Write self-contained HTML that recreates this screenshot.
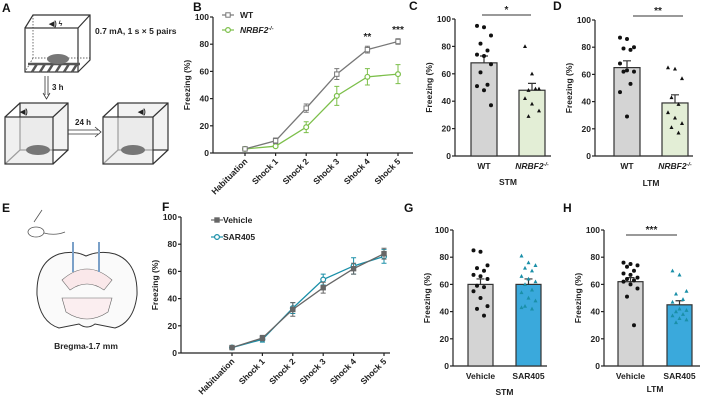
<!DOCTYPE html>
<html><head><meta charset="utf-8"><style>
body{margin:0;background:#fff}
svg{display:block;font-family:"Liberation Sans",Arial,sans-serif;font-weight:bold}
</style></head><body>
<svg id="fig" width="708" height="401" viewBox="0 0 708 401" xmlns="http://www.w3.org/2000/svg">
<g stroke="#333" stroke-width="1.2" fill="none">
<text x="2" y="12" font-size="12" fill="#111" stroke="none">A</text>
<path d="M25 28 L33 15 L90 15 L90 60 L78 72 M78 28 L90 15" />
<rect x="25" y="28" width="53" height="44" fill="#fff"/>
<path d="M33 15 L33 58 L90 58 M33 58 L25 72" stroke-dasharray="1.5 1.5" stroke-width="0.7"/>
<path d="M28 64 L80 64 M32 72 l5 -8 M40 72 l5 -8 M48 72 l5 -8 M56 72 l5 -8 M64 72 l5 -8 M72 72 l5 -8" stroke-width="2.5" stroke="#555"/>
<ellipse cx="58" cy="59" rx="11" ry="5" fill="#777" stroke="none"/>
<text x="95" y="34" font-size="8.5" fill="#222" stroke="none">0.7 mA, 1 s × 5 pairs</text>
<text x="49" y="26" font-size="7" fill="#222" stroke="none">◀) ϟ</text>
<path d="M45 76 L45 95 M48 76 L48 95 M43 93 L46.5 99 L50 93" stroke-width="0.8"/>
<text x="52" y="90" font-size="8" fill="#222" stroke="none">3 h</text>
<rect x="20" y="103" width="48" height="47" fill="#f2f2f2"/>
<path d="M5 117 L20 103 M53 117 L68 103 M53 164 L68 150 M5 164 L20 150"/>
<rect x="5" y="117" width="48" height="47" fill="#e6e6e6" fill-opacity="0.6"/>
<ellipse cx="38" cy="150" rx="12" ry="5" fill="#777" stroke="none"/>
<text x="20" y="114" font-size="7" fill="#222" stroke="none">◀)</text>
<path d="M68 130 L98 130 M68 134 L98 134 M95 127 L101 132 L95 137" stroke-width="0.8"/>
<text x="75" y="125" font-size="8" fill="#222" stroke="none">24 h</text>
<rect x="118" y="103" width="50" height="47" fill="#f2f2f2"/>
<path d="M103 117 L118 103 M153 117 L168 103 M153 164 L168 150 M103 164 L118 150"/>
<rect x="103" y="117" width="50" height="47" fill="#e6e6e6" fill-opacity="0.6"/>
<ellipse cx="133" cy="150" rx="12" ry="5" fill="#777" stroke="none"/>
<text x="138" y="114" font-size="7" fill="#222" stroke="none">◀)</text>
</g>
<g fill="none" stroke="#333" stroke-width="1">
<text x="2" y="212" font-size="12" fill="#111" stroke="none">E</text>
<ellipse cx="36" cy="232" rx="8" ry="5" fill="#fff" stroke="#555" stroke-width="0.8"/>
<path d="M44 233 Q55 236 65 232 M34 222 L42 210" stroke="#555" stroke-width="0.8"/>
<path d="M86 256 Q100 250 115 254 Q138 262 137 295 Q134 322 115 328 L95 324 Q87 330 79 324 L59 328 Q40 322 37 295 Q36 262 59 254 Q74 250 86 256 Z" fill="#fafafa"/>
<path d="M62 280 Q87 258 112 280 L104 290 Q87 278 70 290 Z" fill="#fae8ea" stroke="#666" stroke-width="0.6"/>
<path d="M62 298 L112 298 L108 312 Q87 326 66 312 Z" fill="#fbeef0" stroke="#666" stroke-width="0.6"/>
<path d="M73 242 L73 272 M99 242 L99 272" stroke="#7aa0c8" stroke-width="2"/>
<text x="86" y="349" font-size="8.5" fill="#222" stroke="none" text-anchor="middle">Bregma-1.7 mm</text>
</g>
</svg>
<script>
// Panel B data
const bCats=["Habituation","Shock 1","Shock 2","Shock 3","Shock 4","Shock 5"];
const bWT=[3,9,33,58,76,82];
const bWTerr=[1,2,3,4,2.5,2];
const bKO=[3,5,19,42,56,58];
const bKOerr=[1,1,4,7,6,7];
// Panel F data
const fCats=["Habituation","Shock 1","Shock 2","Shock 3","Shock 4","Shock 5"];
const fVeh=[4,11,32,48,62,73];
const fVehErr=[1,2,5,4,4,4];
const fSar=[4,10,33,54,64,71];
const fSarErr=[1,2,4,4,6,5];
const yTicks=[0,20,40,60,80,100];
// Panel C data
const cMeans=[68,48];
const cErr=[5,5];
const cWT=[95,94,88,82,77,74,73,67,61,52,51,48,37];
const cKO=[80,60,49,48,49,42,38,33,29];
// Panel D data
const dMeans=[65,39];
const dErr=[5,6];
const dWT=[87,86,80,79,78,68,63,62,62,53,47,29];
const dKO=[65,64,57,43,38,32,28,24,21,17];
// Panel G data
const gMeans=[60,60];
const gErr=[4,4];
const gVeh=[85,84,74,72,70,67,66,64,59,58,55,50,44,42,37];
const gSar=[81,76,74,72,70,66,64,62,60,56,54,50,48,44,42,43];
// Panel H data
const hMeans=[62,45];
const hErr=[3,3];
const hVeh=[76,75,74,73,70,68,67,65,64,63,62,60,57,51,30];
const hSar=[70,67,55,53,49,47,42,41,40,38,37,35,34,32];

const NS="http://www.w3.org/2000/svg",svg=document.getElementById('fig');
function el(t,a,p){const e=document.createElementNS(NS,t);for(const k in a)e.setAttribute(k,a[k]);(p||svg).appendChild(e);return e;}
function txt(x,y,s,a,p){const e=el('text',Object.assign({x:x,y:y,'font-size':8.5,fill:'#222'},a||{}),p);e.textContent=s;return e;}
function yAxis(g,ax,y0,y1,xEnd){
  const sy=v=>y0-(y0-y1)*v/100;
  const l=el('line',{x1:ax,x2:ax,y1:y0,y2:y1,stroke:'#222','stroke-width':1.2},g);
  
  
  const xl=el('line',{x1:ax,x2:xEnd,y1:y0,y2:y0,stroke:'#222','stroke-width':1.2},g);
  
  
  yTicks.forEach(v=>{el('line',{x1:ax-3,x2:ax,y1:sy(v),y2:sy(v),stroke:'#222','stroke-width':1.2},g);
    const t=txt(ax-4,sy(v)+3,String(v),{'text-anchor':'end'},g);
    
    });
  const yt=txt(0,0,'Freezing (%)',{'text-anchor':'middle',transform:`translate(${ax-23},${(y0+y1)/2}) rotate(-90)`},g);
  
  
  return sy;
}
function linePanel(name,letter,lx,ax,y0,y1,xEnd,x0,step,cats,s1,e1,s2,e2,c1,c2,mk1,mk2,leg,stars){
  const g=el('g',{});
  
  
  txt(lx,y1-6,letter,{'font-size':12,fill:'#111'},g);
  const sy=yAxis(g,ax,y0,y1,xEnd);
  const sx=i=>x0+i*step;
  cats.forEach((c,i)=>{el('line',{x1:sx(i),x2:sx(i),y1:y0,y2:y0+3,stroke:'#222','stroke-width':1.2},g);
    const t=txt(0,0,c,{'text-anchor':'end',transform:`translate(${sx(i)+3},${y0+9}) rotate(-45)`},g);
    
    });
  [[s2,e2,c2,mk2],[s1,e1,c1,mk1]].forEach(([s,e,c,mk],k)=>{
    const p=el('polyline',{points:s.map((v,i)=>sx(i)+','+sy(v)).join(' '),fill:'none',stroke:c,'stroke-width':1.3},g);
    
    
    s.forEach((v,i)=>{el('path',{d:`M${sx(i)} ${sy(v+e[i])}V${sy(v-e[i])}M${sx(i)-2.5} ${sy(v+e[i])}h5M${sx(i)-2.5} ${sy(v-e[i])}h5`,stroke:c,'stroke-width':1},g);
      const m=mk(sx(i),sy(v),g);
      
      });
  });
  leg(g);
  (stars||[]).forEach(([i,s])=>txt(sx(i),sy(s1[i]+e1[i])-6,s==='**'?'**':'***',{'text-anchor':'middle','font-size':10},g));
}
const sq=(c,fill)=>(x,y,g)=>el('rect',{x:x-2.2,y:y-2.2,width:4.4,height:4.4,fill:fill,stroke:c,'stroke-width':1},g);
const ci=(c,fill)=>(x,y,g)=>el('circle',{cx:x,cy:y,r:2.4,fill:fill,stroke:c,'stroke-width':1.2},g);
linePanel('panel-b','B',193,213,153,17,413,245,30.6,bCats,bWT,bWTerr,bKO,bKOerr,'#777','#7cbf4a',sq('#777','#fff'),ci('#7cbf4a','#fff'),g=>{
  el('line',{x1:222,x2:234,y1:15,y2:15,stroke:'#777','stroke-width':1.2},g);sq('#777','#fff')(228,15,g);
  const a=txt(240,18,'WT',{},g);
  el('line',{x1:222,x2:234,y1:30,y2:30,stroke:'#7cbf4a','stroke-width':1.2},g);ci('#7cbf4a','#fff')(228,30,g);
  const b=txt(240,33,'',{'font-style':'italic'},g);b.innerHTML='NRBF2<tspan font-size="5.5" dy="-3">-/-</tspan>';
  
},[[4,'**'],[5,'***']]);
linePanel('panel-f','F',162,181,353,217,390,232,30.4,fCats,fVeh,fVehErr,fSar,fSarErr,'#666','#1a8fa8',sq('#666','#666'),ci('#1a8fa8','#fff'),g=>{
  el('line',{x1:211,x2:223,y1:220,y2:220,stroke:'#666','stroke-width':1.2},g);sq('#666','#666')(217,220,g);
  const a=txt(223,223,'Vehicle',{},g);
  el('line',{x1:211,x2:223,y1:237,y2:237,stroke:'#1a8fa8','stroke-width':1.2},g);ci('#1a8fa8','#fff')(217,237,g);
  const b=txt(223,240,'SAR405',{},g);
});
function barPanel(name,letter,lx,ly,ax,y0,y1,xEnd,bx,bw,means,errs,d1,d2,fills,marker2,labels,group,gy,sig){
  const g=el('g',{});
  
  
  txt(lx,ly,letter,{'font-size':12,fill:'#111'},g);
  const sy=yAxis(g,ax,y0,y1,xEnd);
  [d1,d2].forEach((d,k)=>{
    const x=bx[k],m=means[k];
    const r=el('rect',{x:x,y:sy(m),width:bw,height:y0-sy(m),fill:fills[k],stroke:'#333','stroke-width':1.2},g);
    
    
    const cx=x+bw/2;
    el('path',{d:`M${cx} ${sy(m)}V${sy(m+errs[k])}M${cx-4} ${sy(m+errs[k])}h8`,stroke:'#333','stroke-width':1.2},g);
    d.forEach((v,i)=>{const off=((i*7)%5-2)*3.5;let p;
      if(k===0)p=el('circle',{cx:cx+off,cy:sy(v),r:2,fill:'#111'},g);
      else{const X=cx+off,Y=sy(v);p=el('path',{d:`M${X} ${Y-2.2}L${X+2} ${Y+1.6}L${X-2} ${Y+1.6}Z`,fill:marker2},g);}
      
      });
    const t=txt(cx,y0+13,'',{'text-anchor':'middle'},g);t.innerHTML=labels[k];
    
  });
  const gt=txt((bx[0]+bx[1]+bw)/2,gy,group,{'text-anchor':'middle'},g);
  
  if(sig){el('line',{x1:sig[0],x2:sig[1],y1:sig[2],y2:sig[2],stroke:'#333','stroke-width':1},g);
    const s=txt((sig[0]+sig[1])/2,sig[2]-2,sig[3],{'text-anchor':'middle','font-size':10},g);
    }
}
const nr='<tspan font-style="italic">NRBF2<tspan font-size="5.5" dy="-3">-/-</tspan></tspan>';
barPanel('panel-c','C',409,10,455,156,19,551,[471,519],26,cMeans,cErr,cWT,cKO,['#d4d4d4','#e3eed6'],'#111',['WT',nr],'STM',185,[482,531,15,'*']);
barPanel('panel-d','D',553,10,595,156,20,693,[614,662],26,dMeans,dErr,dWT,dKO,['#d4d4d4','#e3eed6'],'#111',['WT',nr],'LTM',186,[633,683,16,'**']);
barPanel('panel-g','G',404,212,453,366,230,547,[468,516],25,gMeans,gErr,gVeh,gSar,['#d4d4d4','#3aa9dc'],'#1a8fa8',['Vehicle','SAR405'],'STM',395,null);
barPanel('panel-h','H',563,212,604,366,230,700,[618,667],25,hMeans,hErr,hVeh,hSar,['#d4d4d4','#3aa9dc'],'#1a8fa8',['Vehicle','SAR405'],'LTM',392,[626,677,235,'***']);
</script>
</body></html>
